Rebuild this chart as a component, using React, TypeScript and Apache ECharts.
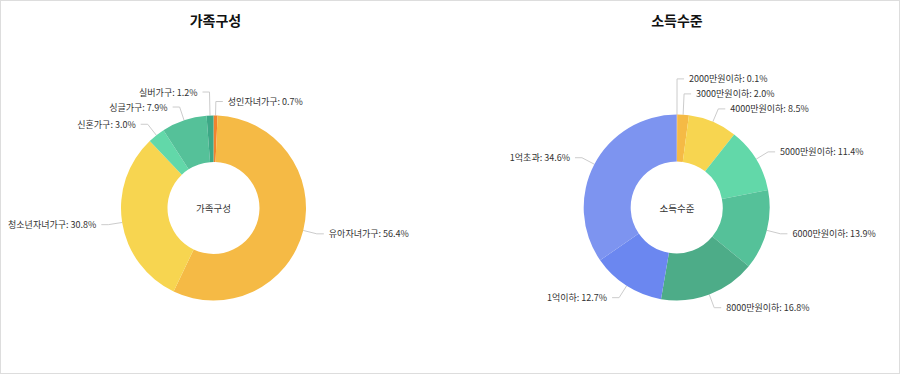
import React, { useEffect, useRef } from "react";
import * as echarts from "echarts";

const familyNames = ["성인자녀가구", "유아자녀가구", "청소년자녀가구", "신혼가구", "싱글가구", "실버가구"];
const familyValues = [0.7, 56.4, 30.8, 3.0, 7.9, 1.2];
const familyColors = ["#f0832f", "#f5ba45", "#f7d550", "#62d8a9", "#55c199", "#3da886"];

const incomeNames = ["2000만원이하", "3000만원이하", "4000만원이하", "5000만원이하", "6000만원이하", "8000만원이하", "1억이하", "1억초과"];
const incomeValues = [0.1, 2.0, 8.5, 11.4, 13.9, 16.8, 12.7, 34.6];
const incomeColors = ["#f0832f", "#f5ba45", "#f7d550", "#62d8a9", "#55c199", "#4dac88", "#6b87f0", "#7d94f0"];

const titles = ["가족구성", "소득수준"];

const FONT = "'Noto Sans CJK KR', 'Noto Sans', sans-serif";
const LABEL_H = 15;

export default function App() {
  const ref = useRef<HTMLDivElement>(null);
  useEffect(() => {
    document.body.style.margin = "0";
    const chart = echarts.init(ref.current!, null, { renderer: "svg" });
    const centers: [number, number][] = [
      [213.5, 208],
      [676.7, 207.5],
    ];
    const mkData = (names: string[], vals: number[], colors: string[]) =>
      names.map((n, i) => ({ name: n, value: vals[i], itemStyle: { color: colors[i] } }));
    const labelCfg = {
      show: true,
      fontSize: 9,
      lineHeight: LABEL_H,
      color: "#333",
      fontFamily: FONT,
      overflow: "none",
      bleedMargin: 0,
      formatter: (p: any) => `${p.name}: ${Number(p.value).toFixed(1)}%`,
    };
    const lineCfg = { show: true, length: 14, length2: 7, lineStyle: { color: "#cccccc", width: 1 } };
    const txt = (t: string, x: number, y: number, size: number, weight: string, color: string) => ({
      type: "text",
      x,
      y,
      style: { text: t, x: 0, y: 0, align: "center", verticalAlign: "middle", fontSize: size, fontWeight: weight, fill: color, fontFamily: FONT },
    });
    const build = (layoutFn: (p: any) => any) => ({
      animation: false,
      textStyle: { fontFamily: FONT },
      graphic: [
        txt(titles[0], 215.5, 20, 14, "bold", "#111"),
        txt(titles[1], 677, 20, 14, "bold", "#111"),
        txt(titles[0], 213.5, 208, 9.5, "normal", "#333"),
        txt(titles[1], 677, 208, 9.5, "normal", "#333"),
      ],
      series: [
        {
          type: "pie",
          center: centers[0],
          radius: [46, 92.5],
          startAngle: 90,
          avoidLabelOverlap: false,
          data: mkData(familyNames, familyValues, familyColors),
          label: labelCfg,
          labelLine: lineCfg,
          labelLayout: layoutFn,
          emphasis: { disabled: true },
        },
        {
          type: "pie",
          center: centers[1],
          radius: [46, 93],
          startAngle: 90,
          avoidLabelOverlap: false,
          data: mkData(incomeNames, incomeValues, incomeColors),
          label: labelCfg,
          labelLine: lineCfg,
          labelLayout: layoutFn,
          emphasis: { disabled: true },
        },
      ],
    });

    // pass 1: collect the library's natural label line points
    const natural: Record<number, Record<number, number[][]>> = { 0: {}, 1: {} };
    chart.setOption(
      build((p: any) => {
        if (p.labelLinePoints) natural[p.seriesIndex][p.dataIndex] = p.labelLinePoints.map((q: number[]) => [q[0], q[1]]);
        return {};
      })
    );

    // resolve overlaps: upper half pushed upward, lower half pushed downward
    const deltas: Record<number, Record<number, number>> = { 0: {}, 1: {} };
    [0, 1].forEach((si) => {
      const cy = centers[si][1];
      const entries = Object.keys(natural[si]).map((k) => {
        const pts = natural[si][Number(k)];
        return { i: Number(k), y: pts[1][1], right: pts[2][0] >= pts[1][0] };
      });
      [true, false].forEach((side) => {
        const items = entries.filter((e) => e.right === side);
        const upper = items.filter((e) => e.y < cy).sort((a, b) => b.y - a.y);
        let prev = Infinity;
        upper.forEach((e) => {
          const ny = Math.min(e.y, prev - LABEL_H);
          prev = ny;
          deltas[si][e.i] = ny - e.y;
        });
        const lower = items.filter((e) => e.y >= cy).sort((a, b) => a.y - b.y);
        prev = -Infinity;
        lower.forEach((e) => {
          const ny = Math.max(e.y, prev + LABEL_H);
          prev = ny;
          deltas[si][e.i] = ny - e.y;
        });
      });
    });

    // pass 2: apply
    chart.setOption(
      build((p: any) => {
        const d = (deltas[p.seriesIndex] || {})[p.dataIndex] || 0;
        if (!d || !p.labelLinePoints) return {};
        const pts = p.labelLinePoints.map((q: number[]) => [q[0], q[1]]);
        pts[1][1] += d;
        pts[2][1] += d;
        return { dy: d, labelLinePoints: pts };
      })
    );
    return () => chart.dispose();
  }, []);
  return (
    <div style={{ position: "relative", width: 900, height: 374, background: "#fff" }}>
      <div ref={ref} style={{ position: "absolute", left: 0, top: 0, width: 900, height: 374 }} />
      <div style={{ position: "absolute", left: 0, top: 0, width: 900, height: 374, boxSizing: "border-box", border: "1px solid #dddddd", pointerEvents: "none" }} />
    </div>
  );
}
